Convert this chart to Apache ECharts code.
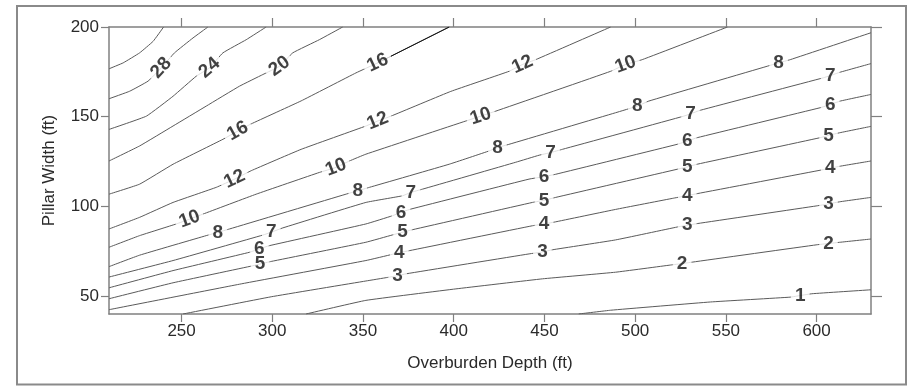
<!DOCTYPE html>
<html><head><meta charset="utf-8">
<script src="https://cdn.jsdelivr.net/npm/echarts@6/dist/echarts.min.js"></script>
<style>html,body{margin:0;padding:0;background:#fff}#c{width:911px;height:386px}</style>
</head><body><div id="c"></div>
<script>
// Axis ticks
const xTicks = [250, 300, 350, 400, 450, 500, 550, 600];
const yTicks = [50, 100, 150, 200];

// Contour lines [overburden depth, pillar width]
const c32 = [[240.1,200],[234.3,192],[226.9,185.6],[217.8,180],[210,176.7]];
const c28 = [[264.5,200],[256.3,193.9],[246.1,185.6],[238.8,177.2],[231.5,169.8],[221.4,164.2],[210,160]];
const c24 = [[296.6,200],[285.6,192.9],[272.8,185.6],[265.4,177.2],[258.1,172.6],[245.3,161.4],[230.6,150.3],[210,142.9]];
const c20 = [[338.8,200],[325.9,192.9],[311.3,185.6],[303.9,178.1],[294.8,173.5],[281.9,167],[263.6,155.9],[245.3,144.8],[226.9,133.7],[210,125.3]];
const c16 = [[210,106.8],[226.9,112.4],[245.3,123.5],[272.8,137.4],[281.0,142.0],[288.4,146.0],[315.9,158.8],[346.1,174.4],[358.1,180],[365.4,183.7],[397.5,200]];
const c12 = [[210,87.4],[226.9,93.9],[245.3,102.2],[269.1,110.6],[279.2,115.2],[288.4,119.9],[315.9,131.8],[351.6,144.8],[358.1,147.6],[365.4,150.3],[398.4,164.1],[430.5,175.3],[437.9,179.1],[445.2,181.8],[486.5,200]];
const c10 = [[210,77.2],[226.9,83.7],[247.1,90.2],[254.4,92.9],[261.8,95.7],[291.1,106.8],[325.9,118.9],[335.1,121.7],[342.5,125.3],[351.6,129.1],[406.7,147.6],[414.9,150.3],[423.2,153.1],[486.5,175.3],[494.7,179.1],[503.9,181.8],[550.9,200]];
const c8 = [[210,66.4],[226.9,72.8],[263.6,83.7],[270.0,85.5],[276.4,87.4],[340.6,106.8],[347.1,108.7],[353.5,110.6],[397.5,123.5],[419.5,130.9],[424.1,132.8],[430.5,134.6],[489.2,152.2],[501.2,155.9],[507.5,158.7],[572.7,178.1],[579.1,180],[585.5,181.8],[630,196.8]];
const c7 = [[210,60.6],[245.3,69.8],[294.8,84.0],[299.4,85.6],[305.8,88.0],[351.6,102.2],[371.8,105.9],[376.4,107.8],[382.8,109.6],[434.2,124.6],[447.0,128.5],[453.4,130.0],[459.9,131.8],[526.8,150.3],[530.5,151.6],[536.0,153.6],[603.8,171.7],[607.5,172.9],[613.0,174.8],[630,179.6]];
const c6 = [[210,54.6],[245.3,64.2],[287.4,74.4],[292.9,76.3],[298.4,78.1],[351.6,90.2],[366.3,94.8],[370.9,96.7],[376.4,98.5],[441.5,115.2],[449.8,116.6],[456.2,117.9],[523.2,134.6],[528.7,136.4],[534.2,138.3],[602.0,155.0],[607.5,156.8],[613.0,158.7],[630,162.4]];
const c5 = [[210,48.5],[245.3,57.4],[289.3,66.9],[293.3,67.9],[299.4,69.3],[351.6,80.0],[366.3,84.1],[371.8,85.6],[377.3,87.0],[443.4,102.2],[449.8,103.4],[456.2,105.0],[523.2,120.7],[528.7,122.0],[534.2,123.5],[602.0,138.3],[606.6,139.6],[613.0,141.1],[630,144.6]];
const c4 = [[210,42.4],[282.9,56.8],[351.6,69.8],[366.3,73.3],[370.0,74.2],[375.5,75.3],[443.4,89.2],[449.8,90.2],[455.3,91.2],[489.2,98.3],[521.3,104.6],[528.7,106.0],[534.2,107.1],[603.8,120.5],[607.5,121.3],[613.0,122.4],[630,125.3]];
const c3 = [[250.8,40],[299.4,49.6],[351.6,58.4],[363.6,60.4],[369.1,61.4],[373.7,62.4],[441.5,73.5],[448.9,74.6],[454.4,75.8],[489.2,81.3],[523.2,88.5],[528.7,89.5],[534.2,90.4],[600.2,100.3],[606.6,101.4],[613.0,102.6],[630,105.0]];
const c2 = [[318.6,40],[351.6,47.6],[401.2,54.0],[448.9,59.6],[489.2,63.3],[519.5,67.3],[525.9,68.1],[531.4,68.9],[600.2,78.6],[606.6,79.3],[613.0,80.0],[630,81.8]];
const c1 = [[468.9,40],[486.5,42.1],[541.5,46.7],[585.5,49.4],[591.0,50.3],[597.5,51.3],[630,53.5]];

// level text and indices of the points where a label sits
const contours = [
  {level: '',   pts: c32, lab: []},
  {level: '28', pts: c28, lab: [3]},
  {level: '24', pts: c24, lab: [3]},
  {level: '20', pts: c20, lab: [3]},
  {level: '16', pts: c16, lab: [4, 8]},
  {level: '12', pts: c12, lab: [4, 8, 12]},
  {level: '10', pts: c10, lab: [3, 7, 11, 14]},
  {level: '8',  pts: c8,  lab: [3, 6, 10, 13, 16]},
  {level: '7',  pts: c7,  lab: [3, 7, 11, 14, 17]},
  {level: '6',  pts: c6,  lab: [3, 7, 10, 13, 16]},
  {level: '5',  pts: c5,  lab: [3, 7, 10, 13, 16]},
  {level: '4',  pts: c4,  lab: [4, 7, 11, 14]},
  {level: '3',  pts: c3,  lab: [4, 7, 11, 14]},
  {level: '2',  pts: c2,  lab: [6, 9]},
  {level: '1',  pts: c1,  lab: [4]}
];

const FONT = "'Liberation Sans', Arial, Helvetica, sans-serif";
const AX = '#808080';
const LINE = '#5a5a5a';

const chart = echarts.init(document.getElementById('c'));

const lineSeries = contours.map(c => ({
  type: 'line', xAxisIndex: 0, yAxisIndex: 0, data: c.pts,
  showSymbol: false, symbol: 'none', smooth: 0.1, clip: true, silent: true,
  lineStyle: {color: LINE, width: 1}, z: 2
}));
// darker upper segment of the 16 line
lineSeries.push({
  type: 'line', xAxisIndex: 0, yAxisIndex: 0, data: c16.slice(8),
  showSymbol: false, symbol: 'none', clip: true, silent: true,
  lineStyle: {color: '#111', width: 1}, z: 3
});

const axCommon = {
  type: 'value', splitLine: {show: false},
  axisLine: {show: true, lineStyle: {color: AX, width: 1.5}},
};

const option = {
  animation: false,
  backgroundColor: '#fff',
  grid: {left: 109, right: 40, top: 27, bottom: 72},
  xAxis: [
    Object.assign({}, axCommon, {
      min: 210, max: 630, position: 'bottom',
      axisTick: {show: true, inside: false, length: 8, customValues: xTicks, lineStyle: {color: AX, width: 1.2}},
      axisLabel: {customValues: xTicks, fontFamily: FONT, fontSize: 17, color: '#2a2a2a', margin: 9},
      name: 'Overburden Depth (ft)', nameLocation: 'middle', nameGap: 41,
      nameTextStyle: {fontFamily: FONT, fontSize: 17, color: '#2a2a2a'}
    }),
    Object.assign({}, axCommon, {
      min: 210, max: 630, position: 'top',
      axisTick: {show: true, inside: false, length: 9, customValues: xTicks, lineStyle: {color: AX, width: 1.2}},
      axisLabel: {show: false}
    })
  ],
  yAxis: [
    Object.assign({}, axCommon, {
      min: 40, max: 200, position: 'left',
      axisTick: {show: true, inside: false, length: 8, customValues: yTicks, lineStyle: {color: AX, width: 1.2}},
      axisLabel: {customValues: yTicks, fontFamily: FONT, fontSize: 17, color: '#2a2a2a', margin: 10},
      name: 'Pillar Width (ft)', nameLocation: 'middle', nameGap: 51, nameRotate: 90,
      nameTextStyle: {fontFamily: FONT, fontSize: 17, color: '#2a2a2a'}
    }),
    Object.assign({}, axCommon, {
      min: 40, max: 200, position: 'right',
      axisTick: {show: true, inside: false, length: 11, customValues: yTicks, lineStyle: {color: AX, width: 1.2}},
      axisLabel: {show: false}
    })
  ],
  graphic: [{
    type: 'rect', shape: {x: 17, y: 6, width: 889, height: 378.5},
    style: {fill: 'none', stroke: '#8a8a8a', lineWidth: 2}, silent: true, z: 0
  }],
  series: lineSeries
};
chart.setOption(option);

// labels placed on the contour points, rotated along the line direction
const labData = [];
contours.forEach(c => c.lab.forEach(i => {
  const a = chart.convertToPixel({seriesIndex: 0}, c.pts[i - 1]);
  const b = chart.convertToPixel({seriesIndex: 0}, c.pts[i + 1]);
  let ang = Math.atan2(a[1] - b[1], b[0] - a[0]) * 180 / Math.PI;
  if (ang > 90) ang -= 180;
  if (ang < -90) ang += 180;
  labData.push({value: c.pts[i], name: c.level, label: {rotate: c.level.length > 1 ? Math.round(ang) : 0}});
}));

chart.setOption({
  series: lineSeries.concat([{
    type: 'scatter', xAxisIndex: 0, yAxisIndex: 0, symbolSize: 1, silent: true, z: 10,
    itemStyle: {color: 'rgba(0,0,0,0)'},
    label: {
      show: true, position: 'inside', formatter: '{b}',
      fontFamily: FONT, fontWeight: 'bold', fontSize: 19, color: '#111',
      backgroundColor: '#fff', padding: [0, 4]
    },
    data: labData
  }])
});
</script>
</body></html>
